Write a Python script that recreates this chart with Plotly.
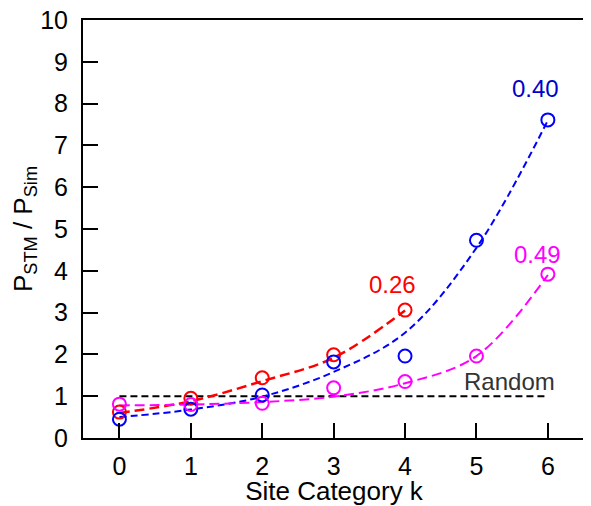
import plotly.graph_objects as go

k_red = [0, 1, 2, 3, 4]
red_pts = [0.62, 0.95, 1.44, 1.99, 3.06]
k_blue = [0, 1, 2, 3, 4, 5, 6]
blue_pts = [0.45, 0.69, 1.03, 1.82, 1.96, 4.73, 7.61]
k_mag = [0, 1, 2, 3, 4, 5, 6]
mag_pts = [0.81, 0.80, 0.83, 1.20, 1.35, 1.96, 3.92]

# fitted curves, read at integer k
red_fit = [0.60, 0.88, 1.36, 1.92, 3.05]
blue_fit = [0.50, 0.68, 0.99, 1.58, 2.52, 4.55, 7.60]
mag_fit = [0.78, 0.80, 0.86, 0.99, 1.31, 1.96, 3.90]

random_k = [0, 6]
random_y = [1, 1]

labels = ["0.26", "0.40", "0.49", "Random"]
label_x = [3.83, 5.82, 5.86, 5.46]
label_y = [3.68, 8.37, 4.38, 1.35]
label_colors = ["#ff0000", "#0000cc", "#ff00ff", "#333333"]

RED, BLUE, MAG = "#ff0000", "#0000ff", "#ff00ff"
FONT = "Liberation Sans, Arial, sans-serif"

fig = go.Figure()
fig.add_trace(go.Scatter(x=random_k, y=random_y, mode="lines",
                         line=dict(color="black", width=2, dash="7px,4px")))
fig.add_trace(go.Scatter(x=k_red, y=red_fit, mode="lines", line_shape="spline",
                         line=dict(color=RED, width=2.5, dash="10px,5px")))
fig.add_trace(go.Scatter(x=k_blue, y=blue_fit, mode="lines", line_shape="spline",
                         line=dict(color=BLUE, width=2, dash="7px,4px")))
fig.add_trace(go.Scatter(x=k_mag, y=mag_fit, mode="lines", line_shape="spline",
                         line=dict(color=MAG, width=2, dash="10px,5px")))
for kk, pts, c in [(k_red, red_pts, RED), (k_blue, blue_pts, BLUE), (k_mag, mag_pts, MAG)]:
    fig.add_trace(go.Scatter(x=kk, y=pts, mode="markers",
                             marker=dict(symbol="circle-open", size=13, color=c,
                                         line=dict(width=2, color=c))))

for t, x, y, c in zip(labels, label_x, label_y, label_colors):
    fig.add_annotation(x=x, y=y, text=t, showarrow=False,
                       font=dict(family=FONT, size=24, color=c))

axis_common = dict(showline=True, linecolor="black", linewidth=2, mirror=True,
                   ticks="inside", ticklen=15, tickwidth=2, tickcolor="black",
                   showgrid=False, zeroline=False, automargin=False,
                   ticklabeloverflow="allow",
                   tickfont=dict(family=FONT, size=25, color="black"))

fig.update_xaxes(range=[-0.51, 6.52], tickvals=[0, 1, 2, 3, 4, 5, 6],
                 ticklabelstandoff=5,
                 title=dict(text="Site Category k", standoff=4,
                            font=dict(family=FONT, size=26, color="black")),
                 **axis_common)
fig.update_yaxes(range=[0, 10], tickvals=list(range(11)),
                 ticklabelstandoff=8,
                 title=dict(text="P<sub>STM</sub> / P<sub>Sim</sub>", standoff=8,
                            font=dict(family=FONT, size=26, color="black")),
                 **axis_common)

# page body adds an 8px margin, so the figure is shifted by (8, 8)
fig.update_layout(width=583, height=498, showlegend=False,
                  margin=dict(l=75, r=6, t=12, b=68),
                  plot_bgcolor="white", paper_bgcolor="white")
fig.write_html("out.html")
